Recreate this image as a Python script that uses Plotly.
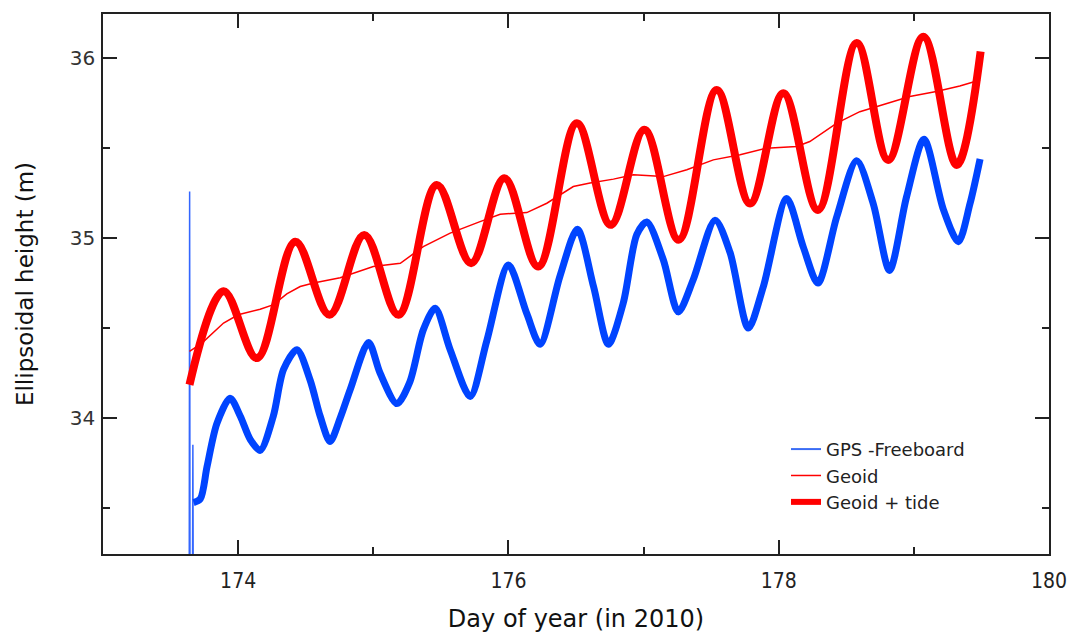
import plotly.graph_objects as go

# ---- data ----
# Geoid + tide (thick red): extrema and end points
tide_x = [173.64, 173.892, 174.139, 174.423, 174.676, 174.933, 175.186, 175.47, 175.724,
          175.97, 176.22, 176.506, 176.757, 177.006, 177.26, 177.541, 177.788, 178.034,
          178.29, 178.577, 178.81, 179.07, 179.317, 179.494]
tide_y = [34.185, 34.705, 34.333, 34.98, 34.574, 35.018, 34.574, 35.296, 34.861,
          35.333, 34.842, 35.639, 35.074, 35.602, 34.991, 35.824, 35.193, 35.806,
          35.157, 36.085, 35.435, 36.12, 35.407, 36.037]

# Geoid (thin red)
geoid_x = [173.64, 173.73, 173.892, 174.0, 174.163, 174.262, 174.36, 174.459, 174.558,
           174.755, 175.0, 175.2, 175.37, 175.569, 175.79, 175.939, 176.136, 176.284,
           176.48, 176.604, 176.777, 176.925, 177.146, 177.32, 177.516, 177.714, 177.91,
           178.133, 178.23, 178.43, 178.6, 178.8, 178.97, 179.166, 179.34, 179.49]
geoid_y = [34.37, 34.415, 34.528, 34.574, 34.605, 34.63, 34.69, 34.731, 34.75,
           34.78, 34.842, 34.86, 34.953, 35.028, 35.092, 35.133, 35.142, 35.194,
           35.287, 35.306, 35.328, 35.352, 35.342, 35.38, 35.435, 35.463, 35.5,
           35.51, 35.537, 35.639, 35.703, 35.75, 35.787, 35.815, 35.846, 35.879]

# GPS - Freeboard (blue)
gps_x = [173.67, 173.72, 173.77, 173.843, 173.94, 174.016, 174.09, 174.163, 174.26,
         174.336, 174.435, 174.533, 174.607, 174.68, 174.755, 174.83, 174.965, 175.05,
         175.175, 175.27, 175.37, 175.458, 175.569, 175.717, 175.84, 176.0, 176.136,
         176.234, 176.382, 176.51, 176.63, 176.74, 176.85, 176.95, 177.024, 177.146,
         177.257, 177.368, 177.529, 177.64, 177.775, 177.886, 178.059, 178.182, 178.29,
         178.43, 178.577, 178.7, 178.82, 178.946, 179.075, 179.218, 179.329, 179.415,
         179.49]
gps_y = [33.53, 33.55, 33.73, 33.97, 34.11, 34.01, 33.88, 33.82, 34.01,
         34.27, 34.38, 34.21, 34.01, 33.87, 34.0, 34.16, 34.42, 34.25,
         34.08, 34.2, 34.49, 34.61, 34.38, 34.12, 34.43, 34.85, 34.58,
         34.41, 34.79, 35.05, 34.73, 34.41, 34.64, 35.02, 35.09, 34.88,
         34.59, 34.77, 35.1, 34.92, 34.5, 34.73, 35.22, 34.95, 34.75,
         35.12, 35.43, 35.19, 34.82, 35.23, 35.55, 35.16, 34.98, 35.19,
         35.44]

# start-of-record glitches in the GPS series
spike_x = [173.638, 173.641, 173.644, 173.662, 173.665, 173.668]
spike_y = [33.0, 35.259, 33.0, 33.0, 33.852, 33.0]

# axes
x_range = [173, 180]
y_range = [33.244, 36.246]
x_ticks = [174, 176, 178, 180]
y_ticks = [34, 35, 36]

BLUE = "#0044ff"
RED = "#ff0000"

fig = go.Figure()
fig.add_trace(go.Scatter(x=spike_x, y=spike_y, mode="lines", showlegend=False,
                         line=dict(color="#3366ff", width=1.5), hoverinfo="skip"))
fig.add_trace(go.Scatter(x=gps_x, y=gps_y, mode="lines", showlegend=False,
                         line=dict(color=BLUE, width=7, shape="spline", smoothing=0.8)))
fig.add_trace(go.Scatter(x=geoid_x, y=geoid_y, mode="lines", showlegend=False,
                         line=dict(color=RED, width=1.5)))
fig.add_trace(go.Scatter(x=tide_x, y=tide_y, mode="lines", showlegend=False,
                         line=dict(color=RED, width=8, shape="spline", smoothing=1.0)))
# legend entries
fig.add_trace(go.Scatter(x=[None], y=[None], mode="lines", name="GPS -Freeboard",
                         line=dict(color="#3a6cf5", width=2)))
fig.add_trace(go.Scatter(x=[None], y=[None], mode="lines", name="Geoid",
                         line=dict(color=RED, width=1.5)))
fig.add_trace(go.Scatter(x=[None], y=[None], mode="lines", name="Geoid + tide",
                         line=dict(color=RED, width=6)))

axis_common = dict(showline=True, linecolor="#222", linewidth=1.5, mirror="ticks",
                   ticks="inside", tickcolor="#222", tickwidth=1.5, ticklen=14,
                   showgrid=False, zeroline=False, automargin=False)

fig.update_xaxes(range=x_range, tickvals=x_ticks, ticktext=[str(v) for v in x_ticks],
                 minor=dict(dtick=1, tick0=173, ticks="inside", ticklen=7,
                            tickcolor="#222", tickwidth=1.5, showgrid=False),
                 tickfont=dict(family="DejaVu Sans Condensed, Roboto, sans-serif",
                               size=21, color="#222"),
                 ticklabelstandoff=7,
                 title=dict(text="Day of year (in 2010)", standoff=28,
                            font=dict(family="DejaVu Sans, Verdana, sans-serif",
                                      size=24, color="#111")),
                 **axis_common)
fig.update_yaxes(range=y_range, tickvals=y_ticks, ticktext=[str(v) for v in y_ticks],
                 minor=dict(dtick=0.5, tick0=33.5, ticks="inside", ticklen=7,
                            tickcolor="#222", tickwidth=1.5, showgrid=False),
                 tickfont=dict(family="DejaVu Sans, Verdana, sans-serif",
                               size=20, color="#333"),
                 ticklabelstandoff=2,
                 title=dict(text="Ellipsoidal height (m)", standoff=30,
                            font=dict(family="DejaVu Sans, Verdana, sans-serif",
                                      size=23, color="#111")),
                 **axis_common)

fig.update_layout(
    width=1073, height=633,
    margin=dict(l=103, r=24, t=14, b=79),
    paper_bgcolor="white", plot_bgcolor="white",
    legend=dict(x=0.722, y=0.228, xanchor="left", yanchor="top",
                bgcolor="rgba(0,0,0,0)", borderwidth=0,
                font=dict(family="DejaVu Sans, Verdana, sans-serif",
                          size=18, color="#222"),
                tracegroupgap=0),
    showlegend=True,
)

fig.write_html(
    "out.html",
    config={"displayModeBar": False},
    post_script=("document.body.style.margin='0';"
                 "document.documentElement.style.overflow='hidden';"
                 "document.body.style.overflow='hidden';"),
)
